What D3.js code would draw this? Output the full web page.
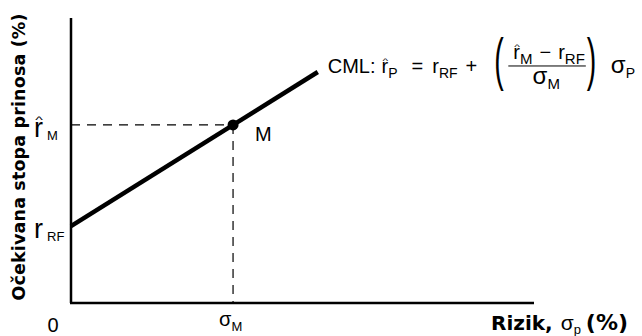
<!DOCTYPE html>
<html>
<head>
<meta charset="utf-8">
<script src="https://cdn.jsdelivr.net/npm/d3@7"></script>
<style>
  body { margin: 0; background: #fff; }
  text { font-family: "Liberation Sans", Arial, sans-serif; fill: #000; }
  .bold { font-family: "DejaVu Sans", Verdana, sans-serif; font-weight: bold; }
</style>
</head>
<body>
<div id="chart"></div>
<script>
var width = 642,
    height = 336;

// chart values (abstract units)
var xDomain = [0, 10],
    yDomain = [0, 10];
var cmlSigma = [0, 5.33];      // risk at start and end of the CML
var rRF = 2.7,                 // risk free rate
    rM = 6.25,                 // market return
    sigmaM = 3.5;              // market risk
var xTickLabels = ["0", "σ"],
    xTickSubs = ["", "M"];
var yTickLabels = ["r", "r"],
    yTickSubs = ["M", "RF"];

var x = d3.scaleLinear().domain(xDomain).range([71, 534]);
var y = d3.scaleLinear().domain(yDomain).range([303, 18]);

var svg = d3.select("#chart").append("svg")
    .attr("width", width)
    .attr("height", height);

var slope = (rM - rRF) / sigmaM;
var cml = cmlSigma.map(function(s) { return [s, rRF + slope * s]; });

// dashed guides to the market portfolio
svg.append("line")
    .attr("x1", x(0)).attr("x2", x(sigmaM))
    .attr("y1", y(rM)).attr("y2", y(rM))
    .attr("stroke", "#000").attr("stroke-width", 1.2)
    .attr("stroke-dasharray", "9,7");
svg.append("line")
    .attr("x1", x(sigmaM)).attr("x2", x(sigmaM))
    .attr("y1", y(rM)).attr("y2", y(0))
    .attr("stroke", "#000").attr("stroke-width", 1.2)
    .attr("stroke-dasharray", "9,7");

// axes
svg.append("line")
    .attr("x1", x(0)).attr("x2", x(0))
    .attr("y1", y(yDomain[1])).attr("y2", y(0))
    .attr("stroke", "#000").attr("stroke-width", 2.5);
svg.append("line")
    .attr("x1", x(0) - 1).attr("x2", x(xDomain[1]))
    .attr("y1", y(0)).attr("y2", y(0))
    .attr("stroke", "#000").attr("stroke-width", 2.5);

// capital market line
var line = d3.line()
    .x(function(d) { return x(d[0]); })
    .y(function(d) { return y(d[1]); });
svg.append("path")
    .datum(cml)
    .attr("d", line)
    .attr("fill", "none")
    .attr("stroke", "#000")
    .attr("stroke-width", 4.5);

svg.append("circle")
    .attr("cx", x(sigmaM)).attr("cy", y(rM))
    .attr("r", 5.5)
    .attr("fill", "#000");

svg.append("text")
    .attr("x", x(sigmaM) + 22).attr("y", y(rM) + 16)
    .style("font-size", "20px")
    .text("M");

// places text pieces one after another, returns the end x
function row(g, x0, y0, parts) {
  var cx = x0;
  parts.forEach(function(p) {
    if (p.gap) { cx += p.gap; return; }
    var t = g.append("text")
        .attr("x", cx).attr("y", y0 + (p.dy || 0))
        .style("font-size", p.size + "px")
        .text(p.t);
    var w = t.node().getComputedTextLength();
    if (p.hat) {
      // small caret sitting above the letter
      var hy = y0 + (p.dy || 0) - p.size * 0.52;
      g.append("text")
          .attr("x", cx + w / 2 + 0.5)
          .attr("y", hy)
          .attr("text-anchor", "middle")
          .attr("transform", "translate(0," + hy + ") scale(1,0.6) translate(0," + (-hy) + ")")
          .style("font-size", (p.size * 0.6) + "px")
          .text("^");
    }
    cx += w;
  });
  return cx;
}

// y tick labels
var yTicks = [rM, rRF];
yTicks.forEach(function(v, i) {
  row(svg, 34, y(v) + 12, [
    { t: yTickLabels[i], size: 27, hat: i === 0 },
    { gap: 4 },
    { t: yTickSubs[i], size: 13, dy: 3 }
  ]);
});

// x tick labels
var xTicks = [0, sigmaM];
xTicks.forEach(function(v, i) {
  var g = svg.append("g");
  if (i === 0) {
    g.append("text")
        .attr("x", x(v) - 18).attr("y", 332)
        .attr("text-anchor", "middle")
        .style("font-size", "20px")
        .text(xTickLabels[i]);
  } else {
    row(g, x(v) - 14, 326, [
      { t: xTickLabels[i], size: 20 },
      { t: xTickSubs[i], size: 13, dy: 5 }
    ]);
  }
});

// axis titles
svg.append("text")
    .attr("class", "bold")
    .attr("transform", "translate(25,157) rotate(-90)")
    .attr("text-anchor", "middle")
    .attr("textLength", 287)
    .attr("lengthAdjust", "spacing")
    .style("font-size", "17.5px")
    .text("Očekivana stopa prinosa (%)");

var xt = svg.append("text")
    .attr("x", 491).attr("y", 330)
    .style("font-size", "20px");
xt.append("tspan").attr("class", "bold").text("Rizik,");
xt.append("tspan").attr("dx", 8).style("font-size", "21px").text("σ");
xt.append("tspan").style("font-size", "13px").attr("dy", 4).text("p");
xt.append("tspan").attr("class", "bold").attr("dy", -4).attr("dx", 5)
    .style("font-size", "22px").text("(%)");

// CML formula
var end = cml[cml.length - 1];
var fx = x(end[0]) + 10,
    fy = y(end[1]) + 1;
var f = svg.append("g");
var cx = row(f, fx, fy, [
  { t: "CML:", size: 20 },
  { gap: 6 },
  { t: "r", size: 20, hat: true },
  { t: "P", size: 14, dy: 5 },
  { gap: 14 },
  { t: "=", size: 20 },
  { gap: 9 },
  { t: "r", size: 20 },
  { t: "RF", size: 14, dy: 5 },
  { gap: 8 },
  { t: "+", size: 20 },
  { gap: 17 }
]);
function paren(px, ch) {
  f.append("text")
      .attr("x", px).attr("y", fy + 6)
      .attr("transform", "translate(" + px + ",0) scale(0.5,1) translate(" + (-px) + ",0)")
      .style("font-size", "57px")
      .text(ch);
}
paren(cx, "(");
cx += 14;
var numEnd = row(f, cx + 5, fy - 14, [
  { t: "r", size: 20, hat: true },
  { t: "M", size: 15, dy: 5 },
  { gap: 7 },
  { t: "−", size: 20 },
  { gap: 7 },
  { t: "r", size: 20 },
  { t: "RF", size: 15, dy: 5 }
]);
f.append("line")
    .attr("x1", cx).attr("x2", numEnd + 1)
    .attr("y1", fy - 7).attr("y2", fy - 7)
    .attr("stroke", "#000").attr("stroke-width", 1);
row(f, (cx + numEnd) / 2 - 14, fy + 11, [
  { t: "σ", size: 24 },
  { t: "M", size: 15, dy: 5 }
]);
cx = numEnd + 2;
paren(cx, ")");
cx += 24;
row(f, cx, fy, [
  { t: "σ", size: 24 },
  { t: "P", size: 14, dy: 5 }
]);
</script>
</body>
</html>
